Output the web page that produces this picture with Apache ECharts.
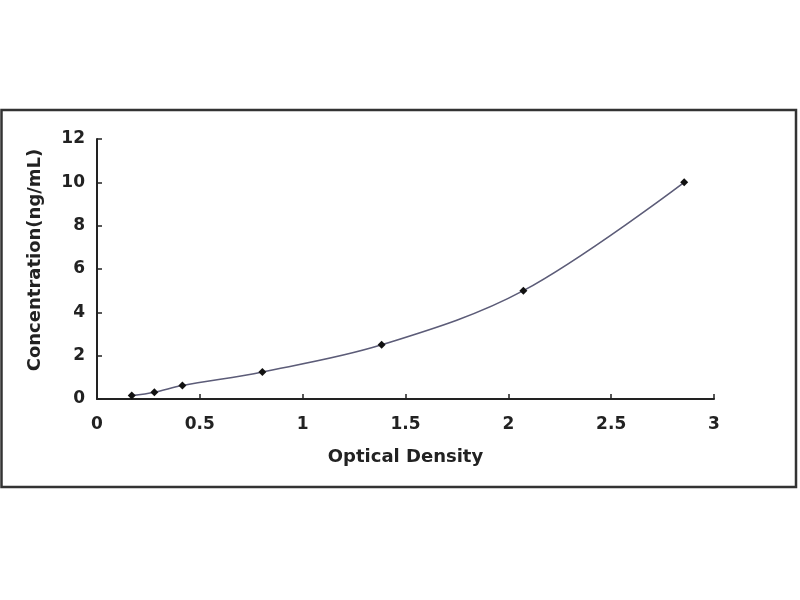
<!DOCTYPE html>
<html>
<head>
<meta charset="utf-8">
<script src="https://cdn.jsdelivr.net/npm/echarts@6/dist/echarts.min.js"></script>
<style>
html,body{margin:0;padding:0;background:#fff;}
#chart{width:800px;height:600px;}
</style>
</head>
<body>
<div id="chart"></div>
<script>
// Data
var opticalDensity = [0.169, 0.279, 0.415, 0.804, 1.384, 2.073, 2.855];
var concentration = [0.156, 0.312, 0.625, 1.25, 2.5, 5, 10];
var xTicks = [0, 0.5, 1, 1.5, 2, 2.5, 3];
var yTicks = [0, 2, 4, 6, 8, 10, 12];

var points = opticalDensity.map(function (x, i) { return [x, concentration[i]]; });

var chart = echarts.init(document.getElementById('chart'), null, {renderer: 'canvas'});
var labelFont = {fontFamily: 'DejaVu Sans', fontWeight: 'bold', fontSize: 17, color: '#222'};

chart.setOption({
  animation: false,
  backgroundColor: '#fff',
  grid: {left: 97, right: 86, top: 139, bottom: 201, containLabel: false},
  graphic: [{
    type: 'rect',
    shape: {x: 1.5, y: 110, width: 794.5, height: 377},
    style: {fill: 'none', stroke: '#333', lineWidth: 2.5},
    silent: true
  }],
  xAxis: {
    type: 'value',
    min: xTicks[0],
    max: xTicks[xTicks.length - 1],
    interval: 0.5,
    name: 'Optical Density',
    nameLocation: 'middle',
    nameGap: 49,
    nameTextStyle: {fontFamily: 'DejaVu Sans', fontWeight: 'bold', fontSize: 18, color: '#222'},
    axisLine: {show: true, lineStyle: {color: '#222', width: 2}},
    axisTick: {show: true, inside: true, length: 5, lineStyle: {color: '#222', width: 1.5}},
    axisLabel: Object.assign({margin: 17}, labelFont),
    splitLine: {show: false}
  },
  yAxis: {
    type: 'value',
    min: yTicks[0],
    max: yTicks[yTicks.length - 1],
    interval: 2,
    name: 'Concentration(ng/mL)',
    nameLocation: 'middle',
    nameGap: 53,
    nameTextStyle: {fontFamily: 'DejaVu Sans', fontWeight: 'bold', fontSize: 18, color: '#222', padding: [0, 0, 0, 18]},
    axisLine: {show: true, lineStyle: {color: '#222', width: 2}},
    axisTick: {show: true, inside: true, length: 5, lineStyle: {color: '#222', width: 1.5}},
    axisLabel: Object.assign({margin: 12}, labelFont),
    splitLine: {show: false}
  },
  series: [{
    type: 'line',
    data: points,
    smooth: 0.35,
    symbol: 'diamond',
    symbolSize: 8,
    itemStyle: {color: '#111'},
    lineStyle: {color: '#5c5c78', width: 1.6}
  }]
});
</script>
</body>
</html>
